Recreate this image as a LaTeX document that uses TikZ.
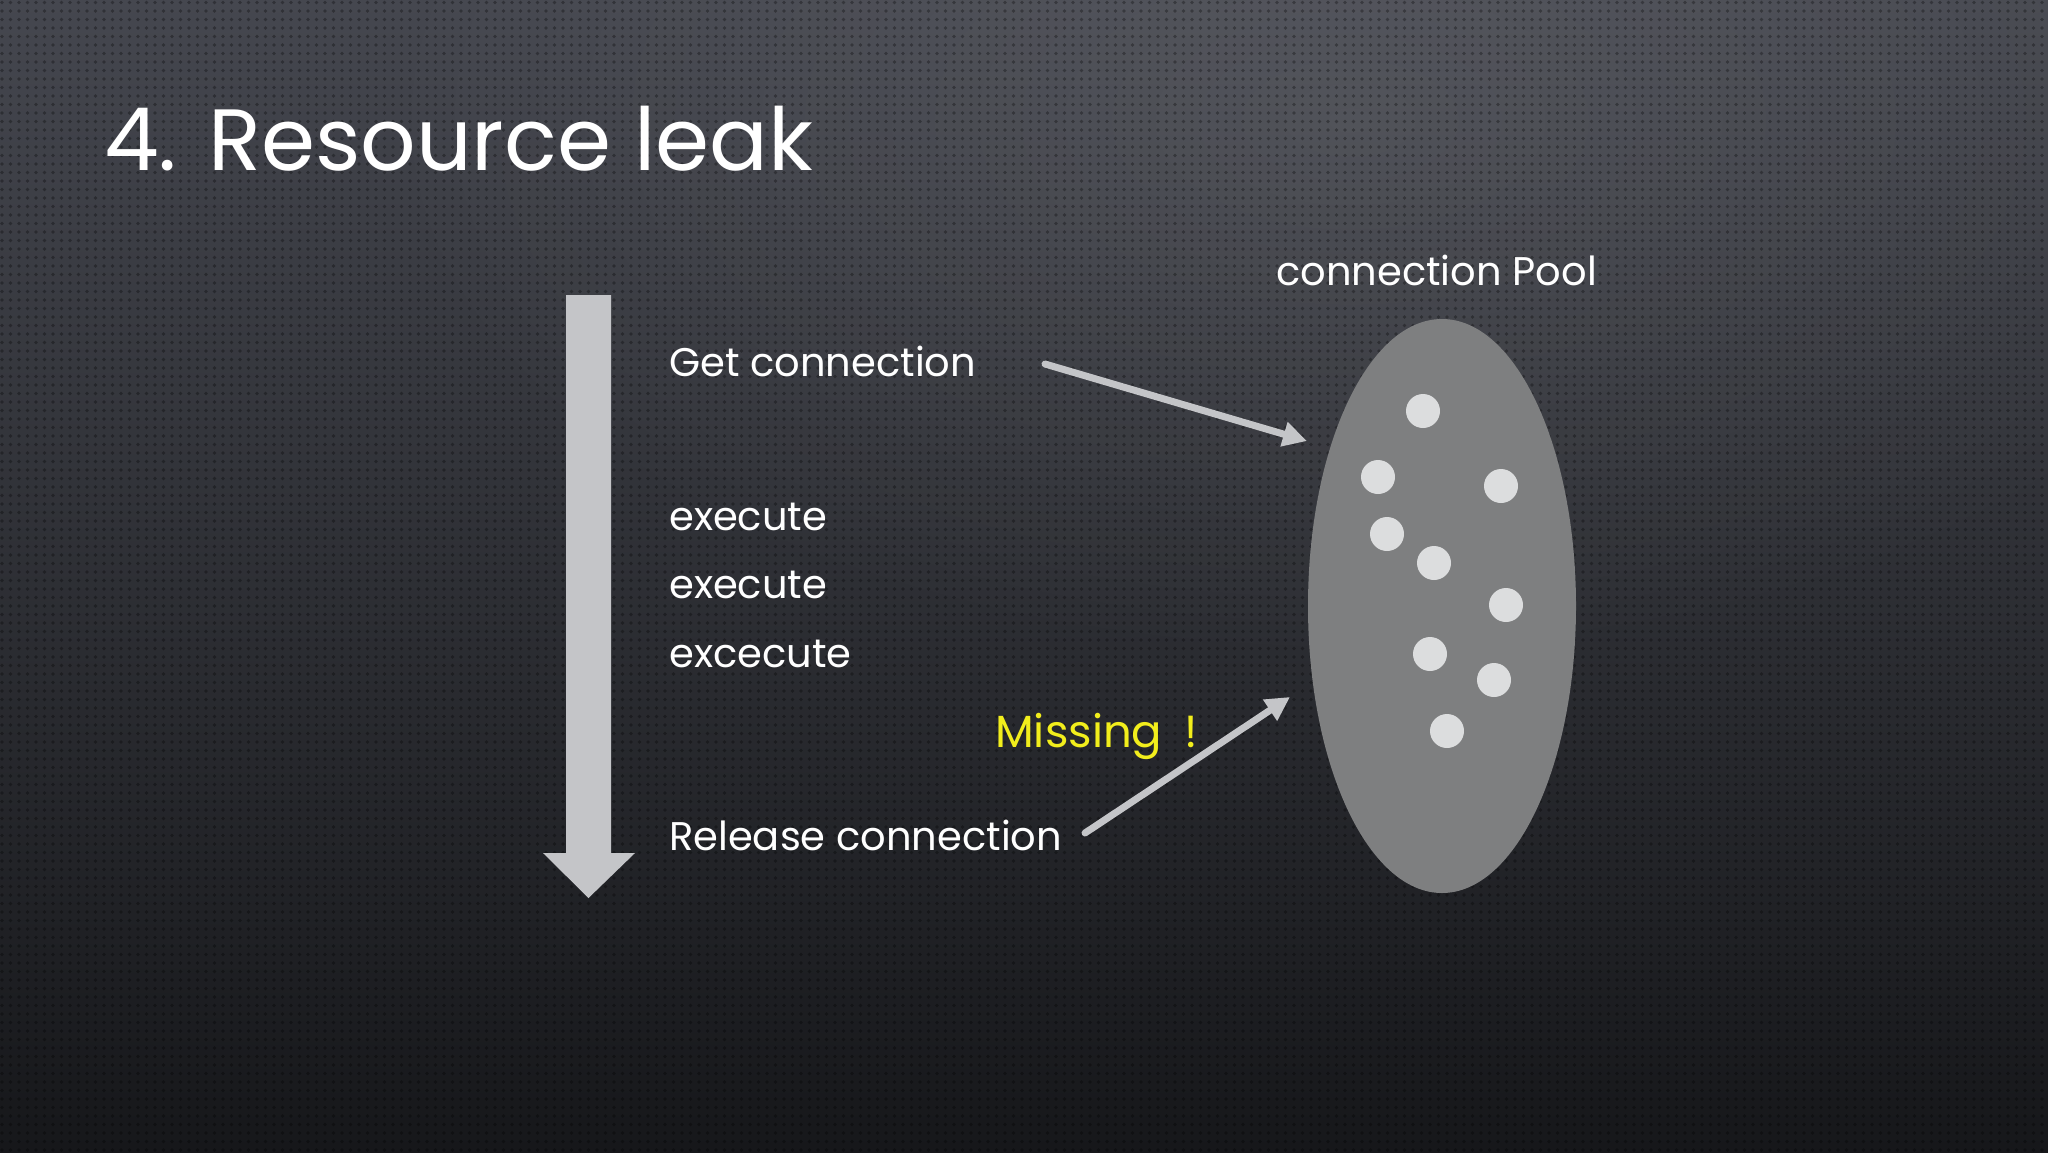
\documentclass[tikz,border=0pt]{standalone}
\usepackage{fontspec}
\setmainfont{Poppins}
\usetikzlibrary{arrows.meta,shapes.geometric,fadings,patterns}
\definecolor{bgtop}{HTML}{45474F}
\definecolor{bgbot}{HTML}{16171A}
\definecolor{arrowgray}{HTML}{C4C5C8}
\definecolor{poolgray}{HTML}{7E7F80}
\definecolor{dotgray}{HTML}{DCDDDE}
\definecolor{missyellow}{HTML}{F2EE1C}
\tikzfading[name=softglow, inner color=transparent!0, outer color=transparent!100]
\pgfdeclarepatternformonly{bgdots}{\pgfqpoint{-1pt}{-1pt}}{\pgfqpoint{5pt}{5pt}}{\pgfqpoint{8.5pt}{8.5pt}}{\pgfpathcircle{\pgfqpoint{2pt}{2pt}}{1.8pt}\pgfusepath{fill}}
\tikzset{
  lbl/.style={anchor=base west, inner sep=0pt, text=white, font=\fontsize{40}{48}\selectfont},
  conn/.style={draw=arrowgray, line width=7pt, line cap=round, -{Triangle[length=24pt,width=24pt]}},
  pooldot/.style={circle, fill=dotgray, minimum size=34pt, inner sep=0pt},
}
\begin{document}
\begin{tikzpicture}[x=1pt,y=-1pt]
\useasboundingbox (0,0) rectangle (2048,1152);
\shade[top color=bgtop, bottom color=bgbot] (0,0) rectangle (2048,1152);
\fill[white, opacity=0.09, path fading=softglow] (1350,120) ellipse (1000pt and 560pt);
\fill[pattern=bgdots, pattern color=black, opacity=0.3] (0,0) rectangle (2048,1152);
% title
\node[anchor=base west, inner sep=0pt, text=white, font=\fontsize{87}{100}\selectfont] (title) at (104,170) {4. Resource leak};
% time arrow
\fill[arrowgray] (566,295) -- (611,295) -- (611,853) -- (635,853) -- (588.5,898) -- (543,853) -- (566,853) -- cycle;
% labels
\node[lbl] (get) at (669,376) {Get connection};
\node[lbl] (ex1) at (669,530) {execute};
\node[lbl] (ex2) at (669,598) {execute};
\node[lbl] (ex3) at (669,667) {excecute};
\node[lbl] (rel) at (669,850) {Release connection};
\node[lbl, text=missyellow, font=\fontsize{45}{54}\selectfont] (miss) at (995,747) {Missing\hspace{22pt}!};
\node[lbl] (pooltitle) at (1276,285) {connection Pool};
% pool
\node[ellipse, fill=poolgray, minimum width=268pt, minimum height=574pt, inner sep=0pt] (pool) at (1442,606) {};
\node[pooldot] (d1) at (1423,411) {};
\node[pooldot] (d2) at (1378,477) {};
\node[pooldot] (d3) at (1501,486) {};
\node[pooldot] (d4) at (1387,534) {};
\node[pooldot] (d5) at (1434,563) {};
\node[pooldot] (d6) at (1506,605) {};
\node[pooldot] (d7) at (1430,654) {};
\node[pooldot] (d8) at (1494,680) {};
\node[pooldot] (d9) at (1447,731) {};
% connectors
\coordinate (tipA) at (1307,441);
\coordinate (tipB) at (1290,697);
\coordinate (startA) at (1045,364);
\coordinate (startB) at (1085,833);
\draw[conn] (startA) -- (tipA);
\draw[conn] (startB) -- (tipB);
\end{tikzpicture}
\end{document}
